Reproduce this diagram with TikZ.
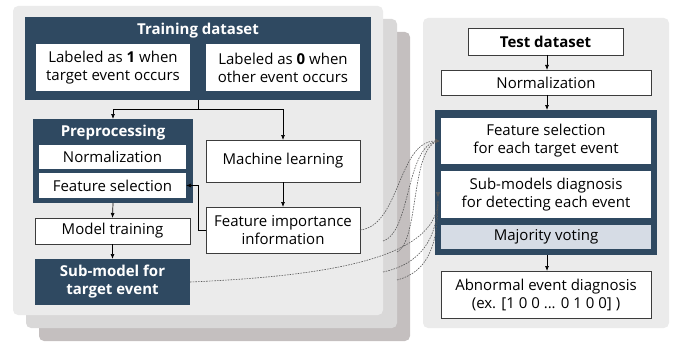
\documentclass[tikz,border=0pt]{standalone}
\usepackage{fontspec}
\setmainfont{Open Sans}
\usetikzlibrary{arrows.meta}
\definecolor{navy}{RGB}{47,73,97}
\definecolor{pan1}{RGB}{235,235,235}
\definecolor{pan2}{RGB}{217,216,216}
\definecolor{pan3}{RGB}{196,191,191}
\definecolor{voteblue}{RGB}{214,220,229}
\definecolor{edgegray}{RGB}{60,60,60}
\definecolor{dashgray}{RGB}{90,90,90}
\begin{document}
\begin{tikzpicture}[x=1pt,y=-1pt,
  every node/.style={font=\fontsize{15}{18}\selectfont, inner sep=0pt, outer sep=0pt},
  panel/.style={rounded corners=5pt, draw=none},
  darkbox/.style={fill=navy, draw=none},
  wbox/.style={fill=white, draw=edgegray, line width=0.8pt, align=center},
  ttl/.style={text=white, font=\fontsize{15}{18}\selectfont\bfseries},
  arr/.style={-{Latex[length=5pt,width=4pt]}, line width=0.7pt, black},
  dashln/.style={dash pattern=on 1.6pt off 1.1pt, dashgray, line width=0.6pt},
  dasharr/.style={dash pattern=on 1.6pt off 1.1pt, dashgray, line width=0.6pt, -{Latex[length=5pt,width=5pt]}}]
\useasboundingbox (0,0) rectangle (676,342);
% panels
\fill[pan3, panel] (39,32) rectangle (410,341);
\fill[pan2, panel] (26,19) rectangle (397,328);
\fill[pan1, panel] (13,6) rectangle (383,315);
\fill[pan1, panel] (423,18) rectangle (669,328);
% training dataset
\node[darkbox, minimum width=346pt, minimum height=83pt] (train) at (198,58.5) {};
\node[ttl] (traint) at (198,31) {Training dataset};
\node[wbox, draw=none, minimum width=154pt, minimum height=47pt] (lab1) at (113,67.5) {Labeled as \textbf{1} when\\target event occurs};
\node[wbox, draw=none, minimum width=154pt, minimum height=47pt] (lab0) at (283,67.5) {Labeled as \textbf{0} when\\other event occurs};
% preprocessing
\node[darkbox, minimum width=160pt, minimum height=84pt] (prep) at (113,161) {};
\node[ttl] (prept) at (113,133) {Preprocessing};
\node[wbox, draw=none, minimum width=147pt, minimum height=24pt] (norm1) at (112.5,157) {Normalization};
\node[wbox, draw=none, minimum width=147pt, minimum height=25pt] (fsel) at (112.5,185.5) {Feature selection};
% machine learning
\node[wbox, minimum width=154pt, minimum height=42pt] (ml) at (283,161) {Machine learning};
\node[wbox, minimum width=154pt, minimum height=46pt] (fi) at (283,230) {Feature importance\\information};
\node[wbox, minimum width=155pt, minimum height=26pt] (mt) at (112.5,231) {Model training};
\node[darkbox, ttl, align=center, minimum width=155pt, minimum height=46pt] (sub) at (112.5,282) {Sub-model for\\target event};
% test side
\node[wbox, minimum width=155pt, minimum height=27pt, font=\fontsize{15}{18}\selectfont\bfseries] (test) at (545.5,41.5) {Test dataset};
\node[wbox, minimum width=210pt, minimum height=25pt] (norm2) at (546,82.5) {Normalization};
\node[darkbox, minimum width=222pt, minimum height=145pt] (dbox) at (546,182.5) {};
\node[wbox, draw=none, minimum width=210pt, minimum height=46pt] (fs2) at (546,141) {Feature selection\\for each target event};
\node[wbox, draw=none, minimum width=210pt, minimum height=47pt] (smd) at (546,194.5) {Sub-models diagnosis\\for detecting each event};
\node[wbox, draw=none, fill=voteblue, minimum width=210pt, minimum height=24pt] (mv) at (546,237) {Majority voting};
\node[wbox, minimum width=210pt, minimum height=47pt] (abn) at (546,294.5) {Abnormal event diagnosis\\(ex. [1 0 0 ... 0 1 0 0] )};
% arrows left
\coordinate (split) at (198,109);
\draw[line width=0.7pt] (train.south -| split) -- (split);
\draw[arr] (split) -| (prep.north);
\draw[arr] (split) -| (ml.north);
\draw[arr] (ml.south) -- (fi.north);
\draw[arr] (fi.west) -| (198,185.5) -- (fsel.east);
\draw[arr] (prep.south) -- (mt.north);
\draw[arr] (mt.south) -- (sub.north);
% arrows right
\draw[arr] (test.south -| 547,0) -- (norm2.north -| 547,0);
\draw[arr] (norm2.south -| 547,0) -- (dbox.north -| 547,0);
\draw[arr] (dbox.south -| 547,0) -- (abn.north -| 547,0);
% dashed curves
\coordinate (h1) at (440,141);
\coordinate (h2) at (438,197);
\coordinate (e2) at (383,241);
\coordinate (e3) at (397,252);
\coordinate (e4) at (383,272);
\coordinate (e5) at (397,280);
\draw[dasharr] (fi.east |- 0,230) .. controls (400,226) and (398,141) .. (h1);
\draw[dashln] (e2) .. controls (412,232) and (405,141) .. (h1);
\draw[dashln] (e3) .. controls (420,240) and (410,143) .. (h1);
\draw[dashln] (sub.east) .. controls (330,276) and (436,258) .. (438,201);
\draw[dashln] (e4) .. controls (420,264) and (437,240) .. (438,201);
\draw[dashln] (e5) .. controls (428,272) and (438,245) .. (438,201);
\draw[-{Latex[length=5pt,width=5pt]}, dashgray, line width=0.6pt] (438,193) -- (h2);
\end{tikzpicture}
\end{document}
